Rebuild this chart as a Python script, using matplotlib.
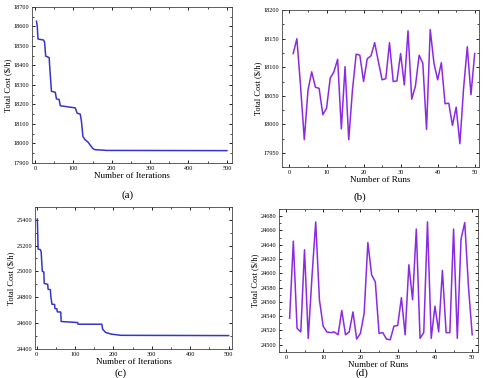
#!/usr/bin/env python3
import matplotlib
matplotlib.use('Agg')
import matplotlib.pyplot as plt
from matplotlib.ticker import AutoMinorLocator

# (a) convergence, breakpoints
iter_a = [4, 6, 8, 22, 25, 28, 37, 39, 43, 53, 56, 63, 66, 105, 110, 118, 121, 125, 130, 139, 150, 156, 187, 500]
cost_a = [18626, 18600, 18535, 18530, 18520, 18447, 18440, 18378, 18267, 18262, 18228, 18225, 18193, 18182, 18155, 18150,
          18115, 18036, 18020, 18005, 17975, 17968, 17964, 17963]

# (b) total cost over 50 runs
runs = list(range(1, 51))
cost_b = [18124, 18150, 18066, 17973, 18060, 18092, 18065, 18063, 18017, 18028,
          18081, 18092, 18114, 17992, 18101, 17973, 18060, 18123, 18121, 18075,
          18115, 18120, 18143, 18110, 18078, 18080, 18143, 18075, 18076, 18124,
          18069, 18164, 18044, 18067, 18121, 18107, 17991, 18166, 18107, 18078,
          18108, 18036, 18037, 17998, 18030, 17966, 18063, 18136, 18052, 18124]

# (c) convergence
iter_c = [2, 3, 4, 10, 12, 15, 19, 20, 29, 30, 36, 37, 40, 47, 48, 53, 54, 63, 64, 107, 108, 170, 172, 180, 195, 220, 500]
cost_c = [25405, 25300, 25173, 25168, 25150, 25000, 24995, 24906, 24900, 24862, 24858, 24810, 24746, 24744, 24712, 24710,
          24687, 24685, 24612, 24604, 24591, 24591, 24552, 24527, 24514, 24505, 24503]

# (d) total cost over 50 runs
cost_d = [24537, 24645, 24523, 24518, 24633, 24509, 24595, 24672, 24563, 24526,
          24518, 24517, 24518, 24514, 24548, 24514, 24518, 24546, 24508, 24516,
          24544, 24643, 24598, 24588, 24516, 24517, 24508, 24507, 24526, 24527,
          24566, 24514, 24612, 24563, 24662, 24509, 24517, 24672, 24509, 24554,
          24518, 24604, 24517, 24517, 24662, 24509, 24648, 24671, 24581, 24514]

plt.rcParams['font.family'] = ['Liberation Serif', 'DejaVu Serif']

blue = '#3535cc'
violet = '#8a2be2'


def style(ax, xlabel, ylabel):
    ax.set_xlabel(xlabel, fontsize=6.5, labelpad=1)
    ax.set_ylabel(ylabel, fontsize=6, labelpad=1)
    ax.xaxis.set_minor_locator(AutoMinorLocator(2))
    ax.yaxis.set_minor_locator(AutoMinorLocator(2))
    ax.tick_params(which='both', direction='in', top=True, right=True, labelsize=4.5, pad=2)
    ax.tick_params(which='major', length=2.5, width=0.6)
    ax.tick_params(which='minor', length=1.5, width=0.5)
    for s in ax.spines.values():
        s.set_linewidth(0.6)
        s.set_color('#444444')


fig = plt.figure(figsize=(4.83, 3.78), dpi=100)

ax = fig.add_axes([0.066, 0.569, 0.414, 0.413])
ax.plot(iter_a, cost_a, color=blue, lw=1.1)
ax.set_xlim(-8, 513)
ax.set_ylim(17900, 18700)
ax.set_xticks([0, 100, 200, 300, 400, 500])
ax.set_yticks(range(17900, 18701, 100))
style(ax, 'Number of Iterations', 'Total Cost ($/h)')
fig.text(0.265, 0.484, '(a)', fontsize=8, ha='center', va='center')

ax = fig.add_axes([0.584, 0.558, 0.408, 0.415])
ax.plot(runs, cost_b, color=violet, lw=1.1)
ax.set_xlim(-2, 51.2)
ax.set_ylim(17925, 18200)
ax.set_xticks([0, 10, 20, 30, 40, 50])
ax.set_yticks(range(17950, 18201, 50))
style(ax, 'Number of Runs', 'Total Cost ($/h)')
fig.text(0.745, 0.479, '(b)', fontsize=8, ha='center', va='center')

ax = fig.add_axes([0.0725, 0.077, 0.408, 0.376])
ax.plot(iter_c, cost_c, color=blue, lw=1.1)
ax.set_xlim(-4, 509)
ax.set_ylim(24400, 25500)
ax.set_xticks([0, 100, 200, 300, 400, 500])
ax.set_yticks(range(24400, 25401, 200))
style(ax, 'Number of Iterations', 'Total Cost ($/h)')
fig.text(0.25, 0.013, '(c)', fontsize=8, ha='center', va='center')

ax = fig.add_axes([0.578, 0.069, 0.412, 0.378])
ax.plot(runs, cost_d, color=violet, lw=1.1)
ax.set_xlim(-1.8, 51.6)
ax.set_ylim(24490, 24690)
ax.set_xticks([0, 10, 20, 30, 40, 50])
ax.set_yticks(range(24500, 24681, 20))
style(ax, 'Number of Runs', 'Total Cost ($/h)')
fig.text(0.75, 0.013, '(d)', fontsize=8, ha='center', va='center')

fig.savefig('out.png', dpi=100)
